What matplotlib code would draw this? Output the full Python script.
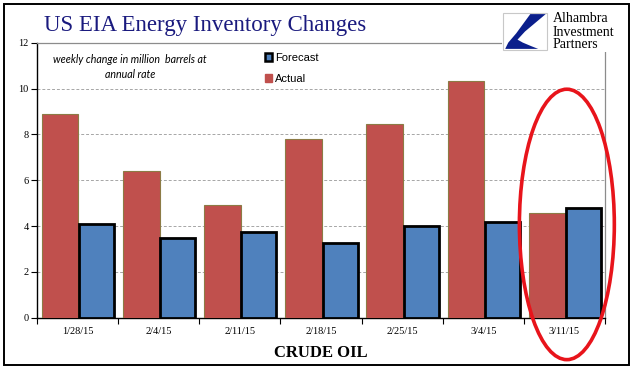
import matplotlib.pyplot as plt
from matplotlib.patches import Ellipse, Patch, Polygon, Rectangle

dates = ["1/28/15", "2/4/15", "2/11/15", "2/18/15", "2/25/15", "3/4/15", "3/11/15"]
actual = [8.9, 6.39, 4.91, 7.78, 8.47, 10.33, 4.55]
forecast = [4.08, 3.47, 3.73, 3.25, 4.0, 4.18, 4.79]
yticks = [0, 2, 4, 6, 8, 10, 12]

RED = "#C0504D"
BLUE = "#4F81BD"
NAVY = "#1A1A7E"
W, H = 641, 386

plt.rcParams["font.family"] = ["Liberation Serif", "DejaVu Serif"]

fig = plt.figure(figsize=(W / 100, H / 100), dpi=100)
ax = fig.add_axes([37 / W, 1 - 317.7 / H, (605 - 37) / W, (317.7 - 42.7) / H])

x = list(range(len(dates)))
ax.bar([i - 0.215 for i in x], actual, width=0.45, color=RED,
       edgecolor="#8C7B45", linewidth=0.8, zorder=3)
ax.bar([i + 0.235 for i in x], forecast, width=0.43, color=BLUE,
       edgecolor="black", linewidth=2.0, zorder=3)

ax.set_xlim(-0.5, len(dates) - 0.5)
ax.set_ylim(0, 12)
ax.set_yticks(yticks)
ax.set_yticklabels([str(v) for v in yticks], fontsize=7.5)
ax.set_xticks(x)
ax.set_xticklabels(dates, fontsize=7.5)
ax.set_xticks([i - 0.5 for i in range(len(dates) + 1)], minor=True)
ax.tick_params(axis="x", which="major", length=0, pad=7)
ax.tick_params(axis="x", which="minor", length=4, direction="out", width=0.8)
ax.tick_params(axis="y", length=4, direction="out", width=0.8, pad=2)
ax.grid(axis="y", color="#A6A6A6", linestyle=(0, (3, 2)), linewidth=0.7, zorder=0)
ax.spines["left"].set_linewidth(1.0)
ax.spines["bottom"].set_linewidth(1.0)
for side in ("top", "right"):
    ax.spines[side].set_color("#8C8C8C")
    ax.spines[side].set_linewidth(0.9)
ax.set_xlabel("CRUDE OIL", fontsize=12, fontweight="bold", labelpad=6)

ax.text(0.164, 0.958, "weekly change in million  barrels at\nannual rate",
        transform=ax.transAxes, ha="center", va="top", fontsize=7.7,
        style="italic", family="Lato", linespacing=1.45)

handles = [Patch(facecolor=BLUE, edgecolor="black", linewidth=1.8, label="Forecast"),
           Patch(facecolor=RED, edgecolor=RED, label="Actual")]
ax.legend(handles=handles, loc="upper left", bbox_to_anchor=(259 / W, 1 - 47 / H),
          bbox_transform=fig.transFigure, frameon=False, borderpad=0,
          handlelength=0.7, handleheight=0.7, handletextpad=0.25,
          labelspacing=1.0, prop={"family": "Liberation Sans", "size": 8})

ax.add_patch(Ellipse((6.03, 4.07), width=1.17, height=11.8, fill=False,
                     edgecolor="#E8141B", linewidth=2.6, clip_on=False, zorder=6))

fig.text(44 / W, 1 - 25 / H, "US EIA Energy Inventory Changes", fontsize=16.5,
         color=NAVY, ha="left", va="center")

# logo
fig.patches.append(Rectangle((502 / W, 1 - 52 / H), 126 / W, 42 / H,
                             transform=fig.transFigure, facecolor="white",
                             edgecolor="none", zorder=4))
bx0, by0, bw, bh = 503, 13, 44, 37


def logo_pt(u, v):
    return ((bx0 + u * bw) / W, 1 - (by0 + v * bh) / H)


fig.patches.append(Rectangle(logo_pt(0, 1), bw / W, bh / H, transform=fig.transFigure,
                             facecolor="white", edgecolor="#C8C8C8",
                             linewidth=0.8, zorder=5))
shape = [(0.62, 0.03), (0.97, 0.03), (0.5, 0.5), (0.33, 0.72), (0.45, 0.8),
         (0.65, 0.9), (0.8, 0.97), (0.05, 0.97), (0.12, 0.8), (0.3, 0.55)]
fig.patches.append(Polygon([logo_pt(u, v) for u, v in shape], closed=True,
                           transform=fig.transFigure, facecolor="#0B1F8C",
                           edgecolor="none", zorder=6))
for i, word in enumerate(["Alhambra", "Investment", "Partners"]):
    fig.text(553 / W, 1 - (19 + 13 * i) / H, word, fontsize=10, color="black",
             ha="left", va="center", zorder=6)

fig.patches.append(Rectangle((4 / W, 1 - 365 / H), 625 / W, 361 / H,
                             transform=fig.transFigure, fill=False,
                             edgecolor="black", linewidth=1.4, zorder=7))

fig.savefig("out.png", dpi=100)
